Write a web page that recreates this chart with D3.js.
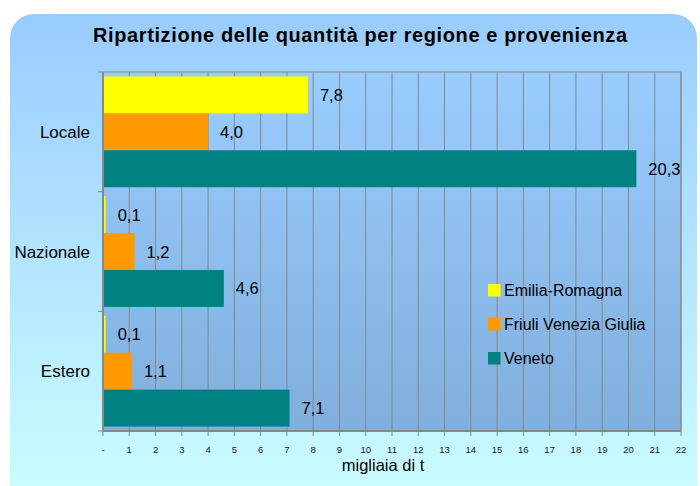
<!DOCTYPE html>
<html>
<head>
<meta charset="utf-8">
<script src="https://d3js.org/d3.v7.min.js"></script>
<style>
  body { margin: 0; background: #fff; }
  text { font-family: Arial, "Liberation Sans", sans-serif; }
</style>
</head>
<body>
<script>
  // categories and series
  var categories = ["Locale", "Nazionale", "Estero"];
  var series = ["Emilia-Romagna", "Friuli Venezia Giulia", "Veneto"];
  var emilia = [7.8, 0.1, 0.1];
  var friuli = [4.0, 1.2, 1.1];
  var veneto = [20.3, 4.6, 7.1];
  var colors = ["#ffff00", "#ff9900", "#008080"];
  var xTicks = d3.range(0, 23);

  var width = 700, height = 486;
  var svg = d3.select("body").append("svg")
      .attr("width", width).attr("height", height);

  var defs = svg.append("defs");
  var g1 = defs.append("linearGradient").attr("id", "bg")
      .attr("x1", 0).attr("y1", 0).attr("x2", 0).attr("y2", 1);
  g1.append("stop").attr("offset", "0%").attr("stop-color", "#99ccff");
  g1.append("stop").attr("offset", "100%").attr("stop-color", "#ccffff");
  var g2 = defs.append("linearGradient").attr("id", "plotbg")
      .attr("x1", 0).attr("y1", 0).attr("x2", 0).attr("y2", 1);
  g2.append("stop").attr("offset", "0%").attr("stop-color", "#99ccff");
  g2.append("stop").attr("offset", "100%").attr("stop-color", "#80afdc");

  // outer panel
  svg.append("rect")
      .attr("x", 10).attr("y", 14)
      .attr("width", 687).attr("height", 500)
      .attr("rx", 24).attr("ry", 24)
      .attr("fill", "url(#bg)");

  svg.append("text")
      .attr("x", 93).attr("y", 42)
      .attr("font-size", 20).attr("font-weight", "bold")
      .attr("textLength", 534).attr("lengthAdjust", "spacing")
      .text("Ripartizione delle quantità per regione e provenienza");

  var pLeft = 103, pRight = 681, pTop = 72, pBottom = 431;

  var x = d3.scaleLinear().domain([0, 22]).range([pLeft, pRight]);
  var y0 = d3.scaleBand().domain(categories).range([pTop, pBottom]).padding(0);
  var y1 = d3.scaleBand().domain(series).range([0, y0.bandwidth()])
      .paddingOuter(0.12).paddingInner(0);

  svg.append("rect")
      .attr("x", pLeft).attr("y", pTop)
      .attr("width", pRight - pLeft).attr("height", pBottom - pTop)
      .attr("fill", "url(#plotbg)")
      .attr("stroke", "#888").attr("stroke-width", 1);

  // grid lines
  svg.append("g").selectAll("line").data(xTicks.slice(1)).join("line")
      .attr("x1", d => x(d)).attr("x2", d => x(d))
      .attr("y1", pTop).attr("y2", pBottom)
      .attr("stroke", "#888").attr("stroke-width", 1);

  var values = [emilia, friuli, veneto];
  var rows = [];
  categories.forEach(function (c, i) {
    series.forEach(function (s, j) {
      rows.push({ cat: c, ser: s, v: values[j][i], color: colors[j] });
    });
  });

  svg.append("g").selectAll("rect").data(rows).join("rect")
      .attr("x", x(0) + 1)
      .attr("y", d => y0(d.cat) + y1(d.ser))
      .attr("width", d => x(d.v) - x(0) - 1)
      .attr("height", y1.bandwidth())
      .attr("fill", d => d.color);

  svg.append("g").selectAll("text").data(rows).join("text")
      .attr("x", d => x(d.v) + 12)
      .attr("y", d => y0(d.cat) + y1(d.ser) + y1.bandwidth() / 2 + 6)
      .attr("font-size", 16.5)
      .text(d => d3.format(".1f")(d.v).replace(".", ","));

  // x axis
  svg.append("line")
      .attr("x1", pLeft).attr("x2", pRight).attr("y1", pBottom).attr("y2", pBottom)
      .attr("stroke", "#888").attr("stroke-width", 2);
  svg.append("g").selectAll("line").data(xTicks).join("line")
      .attr("x1", d => x(d)).attr("x2", d => x(d))
      .attr("y1", pBottom).attr("y2", pBottom + 5)
      .attr("stroke", "#888");
  svg.append("g").selectAll("text").data(xTicks).join("text")
      .attr("x", d => x(d)).attr("y", pBottom + 22)
      .attr("text-anchor", "middle")
      .attr("font-size", 9.5)
      .attr("fill", "#222")
      .text(d => d === 0 ? "-" : d);

  svg.append("text")
      .attr("x", 383).attr("y", 471)
      .attr("text-anchor", "middle")
      .attr("font-size", 16.5)
      .text("migliaia di t");

  // y axis
  svg.append("line")
      .attr("x1", pLeft).attr("x2", pLeft).attr("y1", pTop).attr("y2", pBottom)
      .attr("stroke", "#888").attr("stroke-width", 2);
  svg.append("g").selectAll("line").data([0, 1, 2, 3]).join("line")
      .attr("x1", pLeft - 5).attr("x2", pLeft)
      .attr("y1", d => pTop + d * y0.step()).attr("y2", d => pTop + d * y0.step())
      .attr("stroke", "#888");
  svg.append("g").selectAll("text").data(categories).join("text")
      .attr("x", 90).attr("y", d => y0(d) + y0.bandwidth() / 2 + 6)
      .attr("text-anchor", "end")
      .attr("font-size", 17)
      .text(d => d);

  // legend
  var legend = svg.append("g").selectAll("g").data(series).join("g")
      .attr("transform", (d, i) => "translate(488," + (284 + i * 34) + ")");
  legend.append("rect")
      .attr("width", 12.5).attr("height", 12.5)
      .attr("fill", (d, i) => colors[i]);
  legend.append("text")
      .attr("x", 16).attr("y", 12)
      .attr("font-size", 16)
      .text(d => d);
</script>
</body>
</html>
